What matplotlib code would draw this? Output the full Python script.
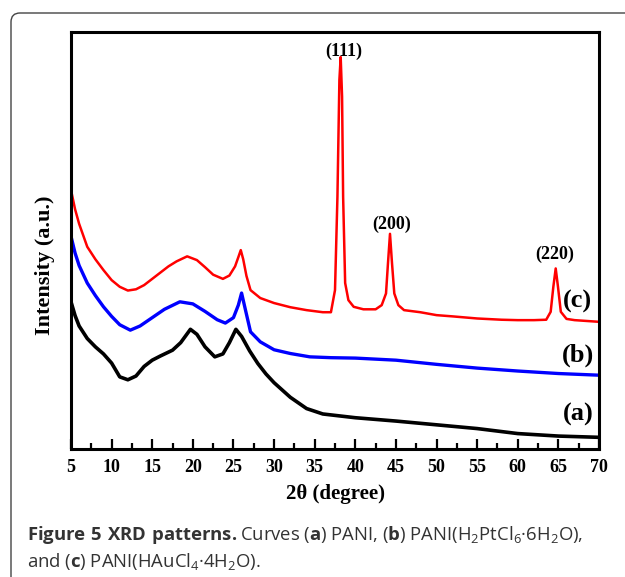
import matplotlib
matplotlib.use("Agg")
import matplotlib.pyplot as plt
from matplotlib.patches import FancyBboxPatch

# ==============================
# Data (2θ in degrees, intensity in arbitrary units)
# ==============================
theta_a = [5, 5.5, 6, 7, 8, 9, 10, 11, 12, 13, 14, 15, 16, 17.5, 18.5, 19.7, 20.5,
           21.5, 22.7, 23.7, 24.5, 25.3, 26, 27, 28, 29, 30, 32, 34, 36, 40, 45,
           50, 55, 60, 65, 70]
int_a = [35.3, 32.0, 29.5, 26.5, 24.5, 22.8, 20.6, 17.3, 16.6, 17.5, 19.8, 21.3,
         22.3, 23.7, 25.5, 28.7, 27.5, 24.5, 22.1, 22.8, 25.5, 28.7, 27.0, 23.5,
         20.5, 18.0, 15.9, 12.4, 9.7, 8.4, 7.5, 6.7, 5.8, 4.9, 3.7, 3.1, 2.8]

theta_b = [5, 5.5, 6, 7, 8, 9, 10, 11, 12.3, 13.5, 15, 16.5, 18.4, 20, 21.5, 23,
           24, 25, 25.6, 26.0, 26.4, 27.1, 28.3, 30, 32, 34.4, 37, 40, 45, 50, 55,
           60, 65, 70]
int_b = [51.0, 47.0, 44.0, 39.8, 36.8, 34.1, 31.8, 29.8, 28.5, 29.5, 31.5, 33.5,
         35.3, 34.8, 33.0, 31.0, 30.2, 31.5, 34.5, 37.4, 34.0, 28.1, 25.7, 23.8,
         22.9, 22.1, 21.9, 21.8, 21.3, 20.3, 19.4, 18.7, 18.1, 17.7]

theta_c = [5, 5.5, 6, 7, 8, 9, 10, 11, 12, 13, 14, 15, 16, 17, 18, 19.3, 20.5,
           21.5, 22.5, 23.7, 24.5, 25.2, 25.6, 25.9, 26.2, 26.6, 27.1, 28.3, 30,
           32, 34, 36, 37, 37.5, 37.8, 38.04, 38.2, 38.37, 38.5, 38.75, 39.15,
           39.8, 41, 42.5, 43.25, 43.78, 44.02, 44.27, 44.52, 44.8, 45.3, 46, 48,
           50, 52, 55, 58, 60, 62, 63.5, 64.05, 64.38, 64.67, 64.95, 65.3, 66, 67, 70]
int_c = [62.1, 57.5, 54.0, 48.5, 45.5, 42.9, 40.5, 38.9, 38.0, 38.3, 39.3, 40.8,
         42.3, 43.8, 45.0, 46.2, 45.3, 43.6, 41.8, 40.8, 41.6, 43.8, 46.0, 47.7,
         45.5, 41.5, 38.1, 36.2, 35.0, 34.0, 33.3, 32.8, 32.8, 38.1, 60.5, 88.5,
         94.0, 84.5, 60.5, 39.8, 35.7, 34.1, 33.5, 33.5, 34.5, 37.3, 44.5, 51.6,
         44.5, 37.3, 34.5, 33.3, 32.8, 32.1, 31.8, 31.3, 31.0, 30.9, 30.9, 31.0,
         32.9, 38.9, 43.3, 38.9, 32.9, 31.2, 30.9, 30.5]

x_ticks = list(range(5, 71, 5))

# ==============================
# Figure
# ==============================
fig = plt.figure(figsize=(6.25, 5.77), dpi=100)

# rounded frame around figure + caption (pixel coords, origin bottom-left)
frame = FancyBboxPatch((11, -40), 700, 564 + 40,
                       boxstyle="round,pad=0,rounding_size=9",
                       transform=None, fill=False, edgecolor="#444444", lw=1.0)
fig.patches.append(frame)

ax = fig.add_axes([71 / 625, 1 - 449 / 577, 528 / 625, 417 / 577])

ax.plot(theta_a, int_a, color="black", lw=2.6)
ax.plot(theta_b, int_b, color="#0000ff", lw=2.4)
ax.plot(theta_c, int_c, color="#ff0000", lw=1.8)

ax.set_xlim(5, 70)
ax.set_ylim(0, 100)
ax.set_xticks(x_ticks)
ax.set_xticks([t + 2.5 for t in x_ticks[:-1]], minor=True)
ax.set_yticks([])

serif = "Liberation Serif"
for lab in ax.get_xticklabels():
    lab.set_fontfamily(serif)
    lab.set_fontweight("bold")
    lab.set_fontsize(13)
ax.tick_params(axis="x", which="major", direction="in", length=7, width=1.6, pad=7)
ax.tick_params(axis="x", which="minor", direction="in", length=4, width=1.6)
for sp in ax.spines.values():
    sp.set_linewidth(2.2)

ax.set_xlabel("2θ (degree)", fontfamily=serif, fontweight="bold", fontsize=15, labelpad=6)
ax.set_ylabel("Intensity (a.u.)", fontfamily=serif, fontweight="bold", fontsize=16)
ax.yaxis.set_label_coords(-0.03, 0.44)

# curve labels
for txt, yy in [("(c)", 35.3), ("(b)", 22.5), ("(a)", 8.2)]:
    ax.text(67.4, yy, txt, fontfamily=serif, fontweight="bold", fontsize=19,
            ha="center", va="center")

# peak labels
for txt, xx, yy in [("(111)", 38.56, 95.3), ("(200)", 44.44, 53.8), ("(220)", 64.58, 46.8)]:
    ax.text(xx, yy, txt, fontfamily=serif, fontweight="bold", fontsize=13,
            ha="center", va="center")

# caption
plt.rcParams["mathtext.fontset"] = "custom"
plt.rcParams["mathtext.rm"] = "Open Sans"
plt.rcParams["mathtext.bf"] = "Open Sans:bold"
cap1 = (r"$\mathbf{Figure\ 5\ XRD\ patterns.}$Curves ($\mathbf{a}$) PANI, "
        r"($\mathbf{b}$) PANI(H$_2$PtCl$_6$·6H$_2$O),")
cap2 = r"and ($\mathbf{c}$) PANI(HAuCl$_4$·4H$_2$O)."
fig.text(27 / 625, 1 - 535 / 577, cap1, fontfamily="Open Sans", fontsize=13.3,
         color="#333333", ha="left", va="center")
fig.text(27 / 625, 1 - 561 / 577, cap2, fontfamily="Open Sans", fontsize=13.3,
         color="#333333", ha="left", va="center")

fig.savefig("out.png", dpi=100)
